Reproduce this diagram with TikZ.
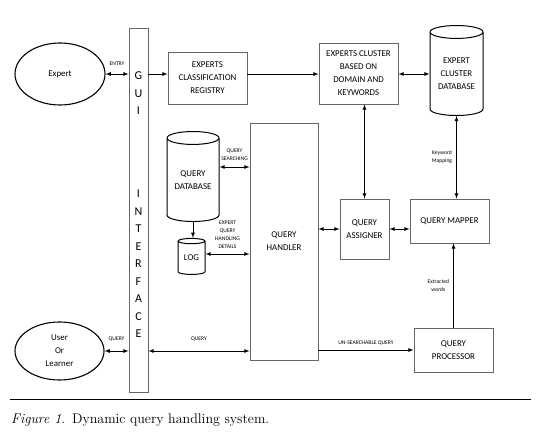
\documentclass[tikz,border=0pt]{standalone}
\usepackage{fontspec}
\newfontfamily\diagfont{Carlito}
\usetikzlibrary{shapes.geometric,arrows}

\begin{document}
\begin{tikzpicture}[x=1pt,y=-1pt,>=latex,
        every node/.style={font=\diagfont\fontsize{8.9}{13}\selectfont,align=center,inner sep=0pt},
        box/.style={draw=black!60,line width=0.9pt,rectangle},
        actor/.style={draw,ellipse,line width=1.1pt},
        store/.style={draw,cylinder,shape border rotate=90,aspect=0.35,line width=1pt},
        tag/.style={font=\diagfont\fontsize{5.6}{8}\selectfont},
        link/.style={line width=0.8pt}
    ]
    \useasboundingbox (0,0) rectangle (544,443);
    \node[actor,minimum width=90,minimum height=62] (expert) at (60,74) {Expert};
    \node[actor,minimum width=89,minimum height=58] (user) at (59.5,351) {User\\Or\\Learner};
    \node[box,minimum width=19,minimum height=364] (gui) at (138.5,210) {};
    \node[font=\diagfont\fontsize{12}{17.5}\selectfont] (guitext) at (138.5,205) {G\\U\\I\\[65.5pt]I\\N\\T\\E\\R\\F\\A\\C\\E};
    \node[box,minimum width=79,minimum height=52] (ecr) at (207.5,78) {EXPERTS\\CLASSIFICATION\\REGISTRY};
    \node[box,minimum width=79,minimum height=61] (ecdk) at (358.5,73.5) {EXPERTS CLUSTER\\BASED ON\\DOMAIN AND\\KEYWORDS};
    \node[store,minimum width=53,minimum height=90] (ecdb) at (456.5,74) {EXPERT\\CLUSTER\\DATABASE};
    \node[store,minimum width=52,minimum height=90] (qdb) at (193,180) {QUERY\\DATABASE};
    \node[store,minimum width=27,minimum height=36] (log) at (191.5,258) {LOG};
    \node[box,minimum width=68,minimum height=237] (qh) at (284,241.5) {QUERY\\HANDLER};
    \node[box,minimum width=49,minimum height=60] (qa) at (364.5,229) {QUERY\\ASSIGNER};
    \node[box,minimum width=79,minimum height=44] (qm) at (449.5,221) {QUERY MAPPER};
    \node[box,minimum width=79,minimum height=44] (qp) at (453.5,350) {QUERY\\PROCESSOR};
    \coordinate (qs) at ([yshift=13pt]qdb.east);
    \coordinate (ld) at ([yshift=4pt]log.east);

    \draw[link,<->] (expert.east) -- node[tag,above=8pt] (entry) {ENTRY} (expert.east -| gui.west);
    \draw[link,->] (gui.east |- expert.east) -- (ecr.west |- expert.east);
    \draw[link,->] (ecr.east |- expert.east) -- (ecdk.west |- expert.east);
    \draw[link,<->] (ecdk.east |- ecdb.west) -- (ecdb.west);
    \draw[link,<->] (ecdk.south -| qa.north) -- (qa.north);
    \draw[link,<->] (ecdb.south) -- node[tag,left=4pt] (kwmap) {Keyword\\Mapping} (qm.north -| ecdb.south);
    \draw[link,->] (qp.north) -- node[tag,left=4pt] (extr) {Extracted\\words} (qm.south -| qp.north);
    \draw[link,<->] (qs) -- node[tag,above=6pt] (qsearch) {QUERY\\SEARCHING} (qs -| qh.west);
    \draw[link,->] (qdb.south) -- (log.north -| qdb.south);
    \draw[link,<->] (ld) -- node[tag,above=5pt] (ehd) {EXPERT\\QUERY\\HANDLING\\DETAILS} (ld -| qh.west);
    \draw[link,<->] (qh.east |- qa.west) -- (qa.west);
    \draw[link,<->] (qa.east) -- (qa.east -| qm.west);
    \draw[link,<->] (user.east) -- node[tag,above=9pt] (uq) {QUERY} (user.east -| gui.west);
    \draw[link,<->] (gui.east |- user.east) -- node[tag,above=9pt] (gq) {QUERY} (qh.west |- user.east);
    \draw[link,->] (qh.east |- qp.west) -- node[tag,above=4pt] (unsq) {UN-SEARCHABLE QUERY} (qp.west);

    \draw[line width=0.9pt] (10,399) coordinate (rl) -- (531,399) coordinate (rr);
    \node[anchor=west,font=\fontsize{14}{16}\selectfont] (caption) at (11,420) {\textit{Figure 1}.\enspace Dynamic query handling system.};
\end{tikzpicture}
\end{document}
